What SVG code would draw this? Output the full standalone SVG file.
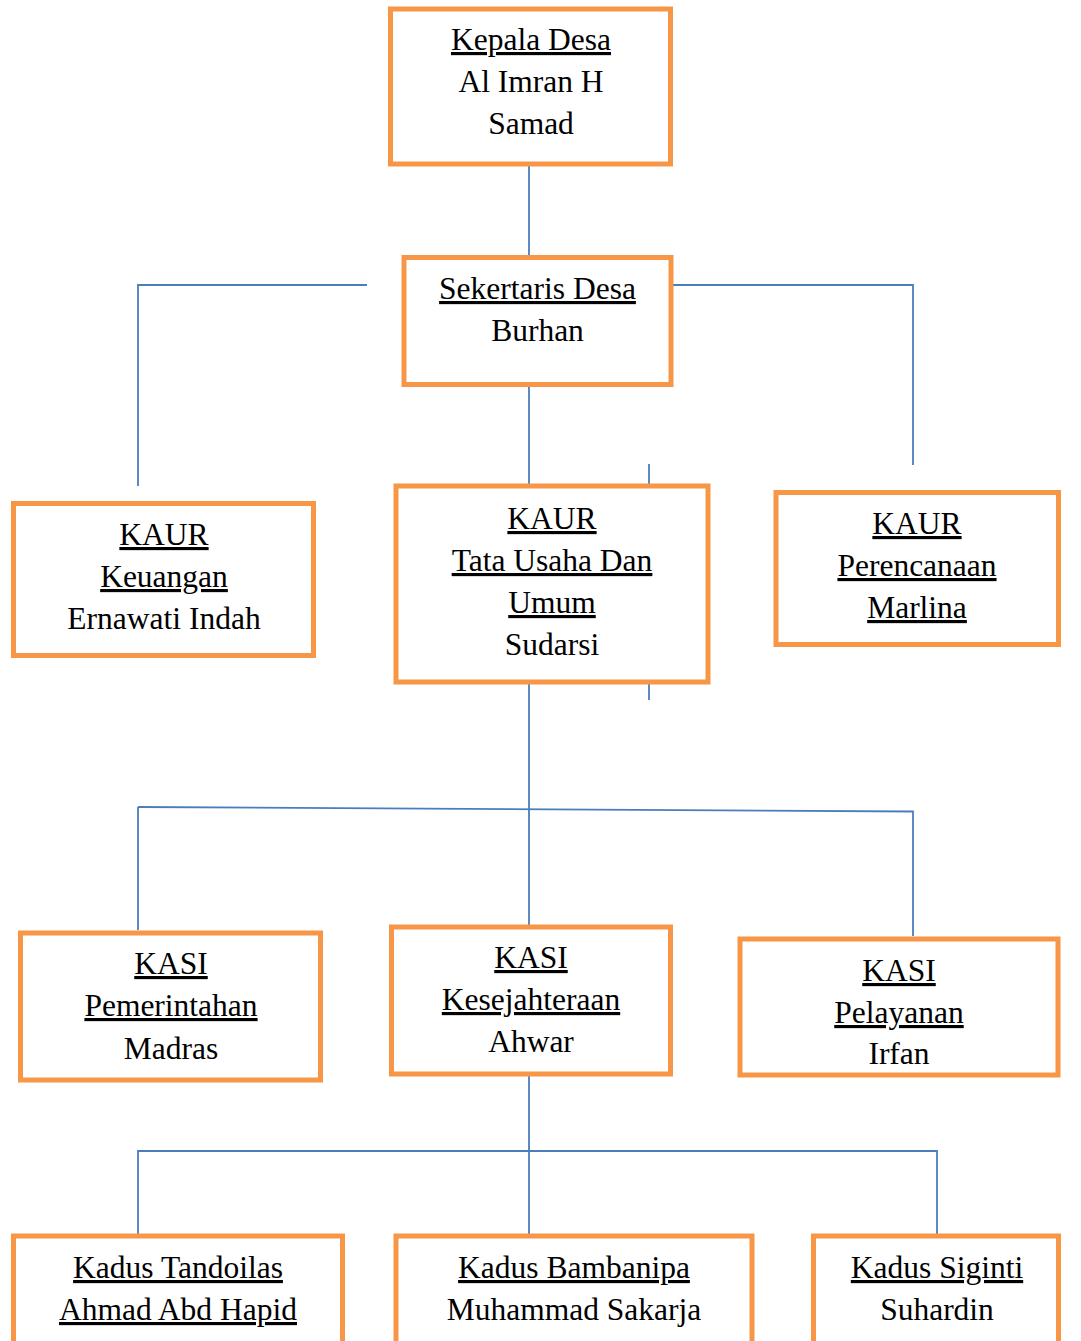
<svg xmlns="http://www.w3.org/2000/svg" width="1081" height="1341" viewBox="0 0 1081 1341">
<style>
.box{fill:#fff;stroke:#F79646;stroke-width:5}
.ln{fill:none;stroke:#4A7EBB;stroke-width:1.8}
text{font-family:"Liberation Serif","Times New Roman",serif;font-size:31.5px;fill:#000;text-anchor:middle}
.u{text-decoration:underline;text-decoration-skip-ink:none}
</style>
<rect width="1081" height="1341" fill="#fff"/>
<g id="connectors">
<path class="ln" d="M529 166V257"/>
<path class="ln" d="M367 285H138V486"/>
<path class="ln" d="M673 285H913V465"/>
<path class="ln" d="M529 385V486"/>
<path class="ln" d="M649 464V484"/>
<path class="ln" d="M649 684V700"/>
<path class="ln" d="M529 682V927"/>
<path class="ln" d="M138 807L913 811.5V936"/>
<path class="ln" d="M138 807V930"/>
<path class="ln" d="M529 1074V1236"/>
<path class="ln" d="M138 1236V1151H937V1236"/>
</g>
<g id="kepala-desa">
<rect class="box" x="390.5" y="9" width="280" height="155"/>
<text x="531" y="50" class="u">Kepala Desa</text>
<text x="531" y="92">Al Imran H</text>
<text x="531" y="134">Samad</text>
</g>
<g id="sekertaris-desa">
<rect class="box" x="404" y="257.5" width="267" height="127"/>
<text x="537.5" y="299" class="u">Sekertaris Desa</text>
<text x="537.5" y="341">Burhan</text>
</g>
<g id="kaur-keuangan">
<rect class="box" x="13.5" y="503.5" width="300" height="152"/>
<text x="164" y="545" class="u">KAUR</text>
<text x="164" y="587" class="u">Keuangan</text>
<text x="164" y="629">Ernawati Indah</text>
</g>
<g id="kaur-tata-usaha">
<rect class="box" x="396" y="486" width="312" height="196"/>
<text x="552" y="529" class="u">KAUR</text>
<text x="552" y="571" class="u">Tata Usaha Dan</text>
<text x="552" y="613" class="u">Umum</text>
<text x="552" y="655">Sudarsi</text>
</g>
<g id="kaur-perencanaan">
<rect class="box" x="776" y="492.5" width="282.5" height="152"/>
<text x="917" y="534" class="u">KAUR</text>
<text x="917" y="576" class="u">Perencanaan</text>
<text x="917" y="618" class="u">Marlina</text>
</g>
<g id="kasi-pemerintahan">
<rect class="box" x="20.5" y="933" width="300" height="147"/>
<text x="171" y="974" class="u">KASI</text>
<text x="171" y="1016" class="u">Pemerintahan</text>
<text x="171" y="1059">Madras</text>
</g>
<g id="kasi-kesejahteraan">
<rect class="box" x="391.5" y="927" width="279" height="147"/>
<text x="531" y="968" class="u">KASI</text>
<text x="531" y="1010" class="u">Kesejahteraan</text>
<text x="531" y="1052">Ahwar</text>
</g>
<g id="kasi-pelayanan">
<rect class="box" x="740" y="939" width="318" height="136"/>
<text x="899" y="981" class="u">KASI</text>
<text x="899" y="1023" class="u">Pelayanan</text>
<text x="899" y="1064">Irfan</text>
</g>
<g id="kadus-tandoilas">
<rect class="box" x="13.5" y="1236" width="329" height="200"/>
<text x="178" y="1278" class="u">Kadus Tandoilas</text>
<text x="178" y="1320" class="u">Ahmad Abd Hapid</text>
</g>
<g id="kadus-bambanipa">
<rect class="box" x="396" y="1236" width="356" height="200"/>
<text x="574" y="1278" class="u">Kadus Bambanipa</text>
<text x="574" y="1320">Muhammad Sakarja</text>
</g>
<g id="kadus-siginti">
<rect class="box" x="813.5" y="1236" width="245" height="200"/>
<text x="937" y="1278" class="u">Kadus Siginti</text>
<text x="937" y="1320">Suhardin</text>
</g>
</svg>
